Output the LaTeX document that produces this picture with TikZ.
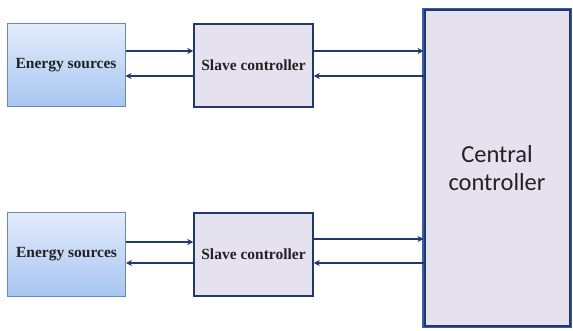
\documentclass[tikz,border=0pt]{standalone}
\usepackage{fontspec}
\setmainfont{Liberation Serif}
\newfontfamily\cfont{Carlito}
\usetikzlibrary{arrows.meta}
\definecolor{navy}{HTML}{1F3A6B}
\definecolor{cblue}{HTML}{3A5DA5}
\definecolor{lav}{HTML}{E5E1EE}
\definecolor{esTop}{HTML}{E2EBFA}
\definecolor{esBot}{HTML}{A7C6F2}
\definecolor{esBorder}{HTML}{6F86A8}
\definecolor{txt}{HTML}{222222}
\tikzset{
  esbox/.style={draw=esBorder, line width=1pt, top color=esTop, bottom color=esBot, minimum width=118pt, minimum height=83pt, inner sep=0pt, text=txt, font=\bfseries\fontsize{15.5}{18}\selectfont},
  slbox/.style={draw=navy, line width=1.5pt, fill=lav, minimum width=119pt, minimum height=83pt, inner sep=0pt, text=txt, font=\bfseries\fontsize{15.5}{18}\selectfont},
  cbox/.style={draw=navy, line width=2pt, fill=lav, minimum width=145pt, minimum height=315pt, inner sep=0pt, align=center, text=txt, font=\cfont\fontsize{24.5}{28}\selectfont},
  cframe/.style={draw=cblue, line width=1.5pt},
  conn/.style={draw=navy, line width=2pt, -{Stealth[length=6pt,width=6pt]}}
}
\begin{document}
\begin{tikzpicture}[x=1pt,y=-1pt]
\useasboundingbox (0,0) rectangle (573,331);
\node[esbox] (e1) at (66,65.5) {Energy sources};
\node[slbox] (s1) at (253.5,65.5) {Slave controller};
\node[esbox] (e2) at (66.5,254.5) {Energy sources};
\node[slbox] (s2) at (253.5,254.5) {Slave controller};
\node[cbox] (c) at (497,168) {Central\\controller};
\draw[cframe] ([shift={(-0.75,-0.75)}]c.north west) rectangle ([shift={(0.75,0.75)}]c.south east);
\draw[conn] (e1.east |- 0,51) -- (s1.west |- 0,51);
\draw[conn] (s1.west |- 0,76) -- (e1.east |- 0,76);
\draw[conn] (s1.east |- 0,51) -- (c.west |- 0,51);
\draw[conn] (c.west |- 0,76) -- (s1.east |- 0,76);
\draw[conn] (e2.east |- 0,242) -- (s2.west |- 0,242);
\draw[conn] (s2.west |- 0,263) -- (e2.east |- 0,263);
\draw[conn] (s2.east |- 0,239) -- (c.west |- 0,239);
\draw[conn] (c.west |- 0,263) -- (s2.east |- 0,263);
\end{tikzpicture}
\end{document}
